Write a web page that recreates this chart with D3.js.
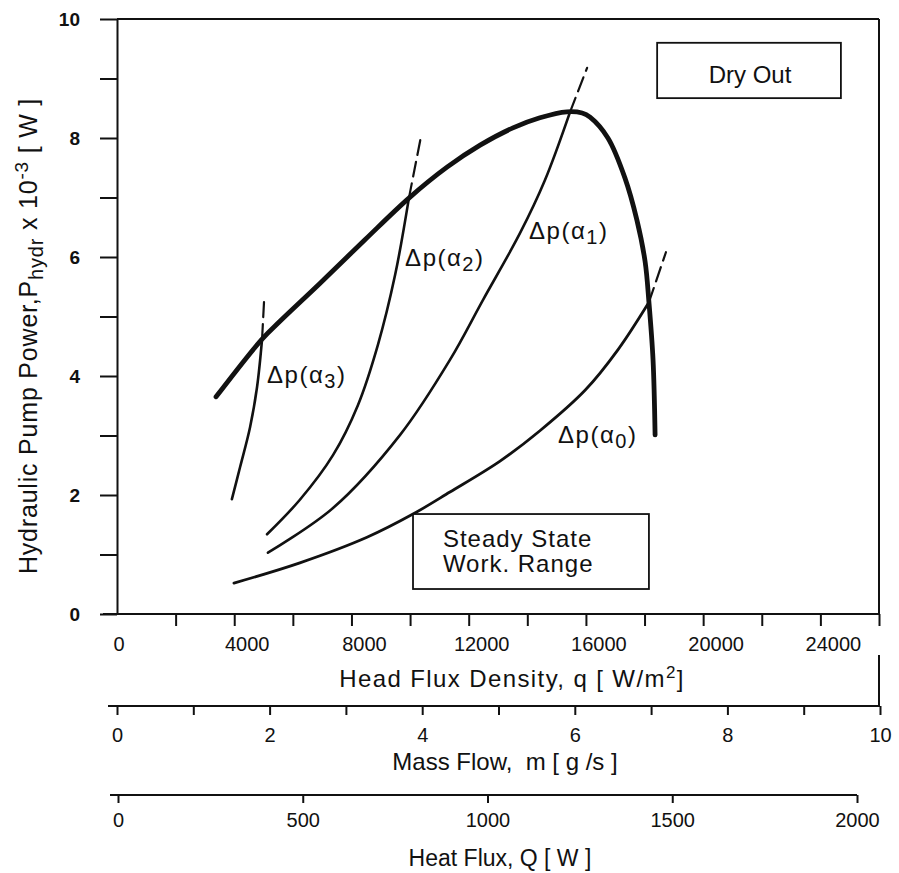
<!DOCTYPE html>
<html>
<head>
<meta charset="utf-8">
<script src="https://cdn.jsdelivr.net/npm/d3@7"></script>
<style>
 body { margin: 0; background: #fff; }
 text { font-family: "Liberation Sans", Arial, sans-serif; fill: #111; }
</style>
</head>
<body>
<script>
// values: heat flux density q [W/m2] vs hydraulic pump power [10^-3 W]
var envQ = [3380, 4950, 5560, 6930, 8460, 9960, 11260, 12390, 13510, 14430, 15350, 15870, 16140, 16750, 17330, 17740, 18020, 18150, 18290, 18360];
var envP = [3.65, 4.62, 4.92, 5.56, 6.29, 6.99, 7.51, 7.88, 8.17, 8.34, 8.44, 8.42, 8.35, 8.00, 7.33, 6.62, 5.92, 5.24, 4.27, 3.01];

var a3Q = [3920, 4200, 4540, 4780, 4950];
var a3P = [1.93, 2.47, 3.14, 3.82, 4.62];
var a3DashQ = [4950, 5020];
var a3DashP = [4.62, 5.28];

var a2Q = [5120, 6240, 7370, 8220, 8900, 9490, 9960];
var a2P = [1.34, 1.92, 2.67, 3.51, 4.52, 5.70, 6.99];
var a2DashQ = [9960, 10370];
var a2DashP = [6.99, 8.02];

var a1Q = [5150, 7370, 9660, 11360, 12490, 13750, 14600, 15460];
var a1P = [1.03, 1.78, 3.01, 4.27, 5.28, 6.40, 7.29, 8.44];
var a1DashQ = [15460, 16040];
var a1DashP = [8.44, 9.18];

var a0Q = [3990, 6240, 8530, 10100, 11360, 13070, 14430, 15970, 17090, 18150];
var a0P = [0.52, 0.86, 1.29, 1.68, 2.05, 2.57, 3.08, 3.76, 4.44, 5.24];
var a0DashQ = [18150, 18730];
var a0DashP = [5.24, 6.08];

// curve labels: [q, P, subscript]
var curveLabels = [[5120, 3.88, "3"], [9830, 5.85, "2"], [14060, 6.30, "1"], [15050, 2.87, "0"]];

var qTicks = d3.range(2000, 26001, 2000);
var qLabels = [0, 4000, 8000, 12000, 16000, 20000, 24000];
var pTicks = d3.range(0, 11);
var mTicks = d3.range(0, 11);
var hTicks = [0, 500, 1000, 1500, 2000];

var width = 899, height = 873;

var svg = d3.select("body").append("svg")
  .attr("width", width)
  .attr("height", height);

var x = d3.scaleLinear().domain([0, 26000]).range([117, 879]);
var y = d3.scaleLinear().domain([0, 10]).range([614, 19]);
var xm = d3.scaleLinear().domain([0, 10]).range([117, 880]);
var xh = d3.scaleLinear().domain([0, 2000]).range([118, 857]);

var mY = 706, hY = 795;

function styleAxis(g, size) {
  g.attr("font-family", null).attr("font-size", null);
  g.selectAll("path, line").attr("stroke", "#111").attr("stroke-width", 2);
  g.selectAll("text").style("font-size", size + "px").attr("fill", "#111");
}

// frame: top and right
svg.append("line")
  .attr("x1", x(0)).attr("x2", x(26000))
  .attr("y1", y(10)).attr("y2", y(10))
  .attr("stroke", "#111").attr("stroke-width", 2);
svg.append("line")
  .attr("x1", x(26000)).attr("x2", x(26000))
  .attr("y1", y(10)).attr("y2", y(0))
  .attr("stroke", "#111").attr("stroke-width", 2);
svg.append("line")
  .attr("x1", x(26000)).attr("x2", x(26000))
  .attr("y1", 655).attr("y2", mY)
  .attr("stroke", "#111").attr("stroke-width", 2);

// y axis
var gy = svg.append("g")
  .attr("transform", "translate(" + x(0) + ",0)")
  .call(d3.axisLeft(y).tickValues(pTicks).tickSize(17).tickSizeOuter(0).tickPadding(20)
    .tickFormat(function(d) { return d % 2 ? "" : d; }));
styleAxis(gy, 19);
gy.selectAll("text").attr("font-weight", "bold");

// q axis
var gq = svg.append("g")
  .attr("transform", "translate(0," + y(0) + ")")
  .call(d3.axisBottom(x).tickValues(qTicks).tickSize(12).tickSizeOuter(0).tickFormat(""));
styleAxis(gq, 20);
gq.select(".domain").attr("d", "M" + (x(0) - 14) + ",0H" + x(26000));

svg.selectAll(".qlab")
  .data(qLabels)
  .enter().append("text")
  .attr("class", "qlab")
  .attr("x", function(d) { return x(d) + (d ? 13 : 2); })
  .attr("y", y(0) + 37)
  .attr("text-anchor", "middle")
  .style("font-size", "20px")
  .text(function(d) { return d; });

// mass flow axis
var gm = svg.append("g")
  .attr("transform", "translate(0," + mY + ")")
  .call(d3.axisBottom(xm).tickValues(mTicks).tickSize(9).tickSizeOuter(0).tickPadding(13)
    .tickFormat(function(d) { return d % 2 ? "" : d; }));
styleAxis(gm, 20);
gm.select(".domain").attr("d", "M" + (xm(0) - 9) + ",0H" + xm(10));

// heat flux axis
var gh = svg.append("g")
  .attr("transform", "translate(0," + hY + ")")
  .call(d3.axisBottom(xh).tickValues(hTicks).tickSize(8).tickSizeOuter(0).tickPadding(10)
    .tickFormat(d3.format("d")));
styleAxis(gh, 20);
gh.select(".domain").attr("d", "M" + (xh(0) - 8) + ",0H" + xh(2000));

// axis titles
var qt = svg.append("text")
  .attr("x", 512).attr("y", 687)
  .attr("text-anchor", "middle")
  .style("font-size", "24px")
  .style("letter-spacing", "1.4px");
qt.append("tspan").text("Head Flux Density, q [ W/m");
qt.append("tspan").attr("dy", -9).style("font-size", "17px").text("2");
qt.append("tspan").attr("dy", 9).text("]");

svg.append("text")
  .attr("x", 505).attr("y", 770)
  .attr("text-anchor", "middle")
  .style("font-size", "24px")
  .style("white-space", "pre")
  .text("Mass Flow,  m [ g /s ]");

svg.append("text")
  .attr("x", 500).attr("y", 866)
  .attr("text-anchor", "middle")
  .style("font-size", "23px")
  .text("Heat Flux, Q [ W ]");

var yt = svg.append("text")
  .attr("transform", "translate(37,336) rotate(-90)")
  .attr("text-anchor", "middle")
  .style("font-size", "25px")
  .style("letter-spacing", "0.8px");
yt.append("tspan").text("Hydraulic Pump Power,P");
yt.append("tspan").attr("dy", 6).style("font-size", "20px").text("hydr");
yt.append("tspan").attr("dy", -6).text(" x 10");
yt.append("tspan").attr("dy", -9).style("font-size", "19px").text("-3");
yt.append("tspan").attr("dy", 9).text(" [ W ]");

// curves
var line = d3.line()
  .x(function(d) { return x(d[0]); })
  .y(function(d) { return y(d[1]); })
  .curve(d3.curveCatmullRom.alpha(0.5));

function draw(qs, ps, w, dash) {
  svg.append("path")
    .datum(d3.zip(qs, ps))
    .attr("fill", "none")
    .attr("stroke", "#111")
    .attr("stroke-width", w)
    .attr("stroke-linecap", "round")
    .attr("stroke-dasharray", dash ? "15,7" : null)
    .attr("d", line);
}

draw(a3Q, a3P, 2.6);
draw(a2Q, a2P, 2.6);
draw(a1Q, a1P, 2.6);
draw(a0Q, a0P, 2.8);
draw(a3DashQ, a3DashP, 2.2, true);
draw(a2DashQ, a2DashP, 2.2, true);
draw(a1DashQ, a1DashP, 2.2, true);
draw(a0DashQ, a0DashP, 2.2, true);
draw(envQ, envP, 4.8);

// curve labels
curveLabels.forEach(function(c) {
  var t = svg.append("text")
    .attr("x", x(c[0])).attr("y", y(c[1]))
    .style("font-size", "24px")
    .style("letter-spacing", "1.5px");
  t.append("tspan").text("\u0394p(\u03b1");
  t.append("tspan").attr("dy", 5).style("font-size", "20px").text(c[2]);
  t.append("tspan").attr("dy", -5).text(")");
});

// region boxes
svg.append("rect")
  .attr("x", x(18430)).attr("y", y(9.60))
  .attr("width", x(24700) - x(18430)).attr("height", y(8.67) - y(9.60))
  .attr("fill", "none").attr("stroke", "#111").attr("stroke-width", 1.8);
svg.append("text")
  .attr("x", x(21600)).attr("y", y(8.92))
  .attr("text-anchor", "middle")
  .style("font-size", "24px")
  .text("Dry Out");

svg.append("rect")
  .attr("x", x(10100)).attr("y", y(1.68))
  .attr("width", x(18150) - x(10100)).attr("height", y(0.42) - y(1.68))
  .attr("fill", "#fff").attr("stroke", "#111").attr("stroke-width", 1.8);
svg.append("text")
  .attr("x", x(11120)).attr("y", y(1.13))
  .style("font-size", "24px")
  .style("letter-spacing", "1px")
  .text("Steady State");
svg.append("text")
  .attr("x", x(11120)).attr("y", y(0.71))
  .style("font-size", "24px")
  .style("letter-spacing", "1px")
  .text("Work. Range");
</script>
</body>
</html>
